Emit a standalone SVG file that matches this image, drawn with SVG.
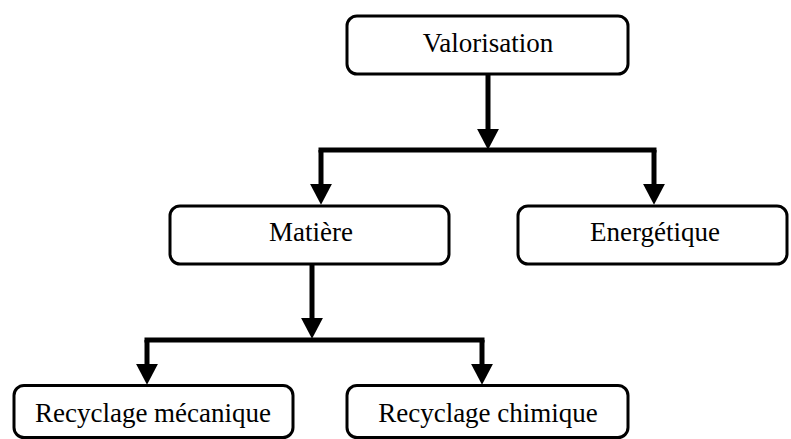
<svg xmlns="http://www.w3.org/2000/svg" width="791" height="439" viewBox="0 0 791 439">
<style>
.box{fill:#fff;stroke:#000;stroke-width:3}
.lbl{font-family:"Liberation Serif","Times New Roman",serif;font-size:27px;fill:#000;text-anchor:middle}
.con{fill:none;stroke:#000;stroke-width:5}
.bar{stroke-linecap:square}
</style>
<defs>
<marker id="ah" markerUnits="userSpaceOnUse" markerWidth="22" markerHeight="24" viewBox="0 -11 20 22" refX="0" refY="0" orient="auto">
<polygon points="0,-10 19,0 0,10" fill="#000"/>
</marker>
</defs>
<g id="connectors">
<path class="con" d="M488 74 V129" marker-end="url(#ah)"/>
<path class="con bar" d="M321 150 H654"/>
<path class="con" d="M321 150 V184" marker-end="url(#ah)"/>
<path class="con" d="M654 150 V184" marker-end="url(#ah)"/>
<path class="con" d="M312 264 V318" marker-end="url(#ah)"/>
<path class="con bar" d="M147 340 H482"/>
<path class="con" d="M147 340 V364" marker-end="url(#ah)"/>
<path class="con" d="M482 340 V364" marker-end="url(#ah)"/>
</g>
<g id="valorisation">
<rect class="box" x="347" y="16" width="281" height="58" rx="10"/>
<text class="lbl" x="488" y="52">Valorisation</text>
</g>
<g id="matiere">
<rect class="box" x="170" y="206" width="279" height="58" rx="10"/>
<text class="lbl" x="311" y="241">Matière</text>
</g>
<g id="energetique">
<rect class="box" x="518" y="206" width="269" height="58" rx="10"/>
<text class="lbl" x="655" y="241">Energétique</text>
</g>
<g id="recyclage-mecanique">
<rect class="box" x="14" y="385.5" width="279" height="52" rx="10"/>
<text class="lbl" x="153" y="422">Recyclage mécanique</text>
</g>
<g id="recyclage-chimique">
<rect class="box" x="347" y="385.5" width="281" height="52" rx="10"/>
<text class="lbl" x="488" y="422">Recyclage chimique</text>
</g>
</svg>
